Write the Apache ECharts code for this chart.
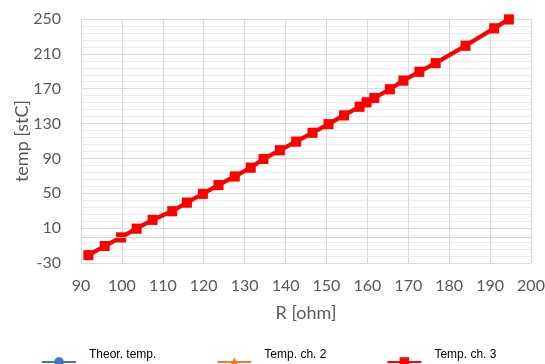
<!DOCTYPE html>
<html>
<head>
<meta charset="utf-8">
<script src="https://cdn.jsdelivr.net/npm/echarts@6/dist/echarts.min.js"></script>
<style>
  html, body { margin: 0; padding: 0; background: #ffffff; }
  #chart { width: 545px; height: 364px; }
</style>
</head>
<body>
<div id="chart"></div>
<script>
// R [ohm] readings
var resist = [91.8, 95.8, 99.8, 103.6, 107.5, 112.3, 115.9, 119.8, 123.6, 127.6, 131.5, 134.6, 138.6,
  142.6, 146.6, 150.5, 154.3, 158.1, 159.8, 161.7, 165.5, 168.8, 172.7, 176.7, 184.0, 191.0, 194.6];
var theorTemp = [-20, -10, 0, 10, 20, 30, 40, 50, 60, 70, 80, 90, 100,
  110, 120, 130, 140, 150, 155, 160, 170, 180, 190, 200, 220, 240, 251];
var tempCh2 = [-21.5, -11.2, -1.3, 8.6, 18.7, 28.8, 38.6, 48.7, 58.6, 68.7, 78.6, 88.7, 98.6,
  108.7, 118.6, 128.7, 138.6, 148.7, 153.6, 158.7, 168.6, 178.7, 188.6, 198.7, 218.6, 238.6, 248.8];
var tempCh3 = [-21, -10.5, -0.5, 9.5, 19.5, 29.5, 39.4, 49.4, 59.5, 69.4, 79.5, 89.4, 99.5,
  109.4, 119.5, 129.4, 139.5, 149.4, 154.5, 159.4, 169.5, 179.4, 189.5, 199.4, 219.4, 239.4, 249.6];
var seriesNames = ['Theor. temp.', 'Temp. ch. 2', 'Temp. ch. 3'];

function pairs(ys) {
  var out = [];
  for (var i = 0; i < resist.length; i++) {
    out.push([resist[i], ys[i]]);
  }
  return out;
}

var myChart = echarts.init(document.getElementById('chart'));
var option = {
  backgroundColor: '#ffffff',
  animation: false,
  grid: {
    left: 81,
    right: 14,
    top: 19,
    bottom: 101,
    outerBoundsMode: 'none',
    containLabel: false
  },
  legend: {
    data: seriesNames,
    left: 36,
    top: 344,
    itemWidth: 34,
    itemHeight: 12,
    itemGap: 60,
    formatter: '{a|{name}}',
    textStyle: {
      fontFamily: 'Liberation Sans',
      fontSize: 12,
      color: '#000000',
      rich: {
        a: {
          fontFamily: 'Liberation Sans',
          fontSize: 12,
          color: '#000000',
          padding: [0, 0, 14, 8]
        }
      }
    }
  },
  xAxis: {
    type: 'value',
    min: 90,
    max: 200,
    interval: 10,
    name: 'R [ohm]',
    nameLocation: 'middle',
    nameGap: 41,
    nameMoveOverlap: false,
    nameTextStyle: {
      fontFamily: 'Lato',
      fontSize: 18,
      color: '#595959'
    },
    axisLine: { show: false, onZero: false },
    axisTick: { show: false },
    axisLabel: {
      margin: 15,
      fontFamily: 'Lato',
      fontSize: 16,
      color: '#595959'
    },
    splitLine: {
      show: true,
      lineStyle: { color: '#d9d9d9', width: 1 }
    }
  },
  yAxis: {
    type: 'value',
    min: -30,
    max: 250,
    interval: 40,
    name: 'temp [stC]',
    nameLocation: 'middle',
    nameGap: 50,
    nameMoveOverlap: false,
    nameTextStyle: {
      fontFamily: 'Lato',
      fontSize: 18,
      color: '#595959'
    },
    axisLine: { show: false },
    axisTick: { show: false },
    axisLabel: {
      margin: 20,
      fontFamily: 'Lato',
      fontSize: 16,
      color: '#595959'
    },
    splitLine: {
      show: true,
      lineStyle: { color: '#d9d9d9', width: 1 }
    },
    minorTick: { show: false, splitNumber: 5 },
    minorSplitLine: {
      show: true,
      lineStyle: { color: '#ececec', width: 1 }
    }
  },
  series: [
    {
      name: seriesNames[0],
      type: 'line',
      data: pairs(theorTemp),
      symbol: 'circle',
      symbolSize: 8,
      color: '#4472c4',
      lineStyle: { width: 3 },
      markLine: {
        silent: true,
        symbol: 'none',
        label: { show: false },
        lineStyle: { color: '#cfcfcf', width: 1, type: 'solid' },
        data: [{ yAxis: 0 }]
      }
    },
    {
      name: seriesNames[1],
      type: 'line',
      data: pairs(tempCh2),
      symbol: 'triangle',
      symbolSize: 9,
      color: '#ed7d31',
      lineStyle: { width: 3 }
    },
    {
      name: seriesNames[2],
      type: 'line',
      data: pairs(tempCh3),
      symbol: 'rect',
      symbolSize: 10,
      color: '#ff0000',
      lineStyle: { width: 4 }
    }
  ]
};
myChart.setOption(option);
</script>
</body>
</html>
